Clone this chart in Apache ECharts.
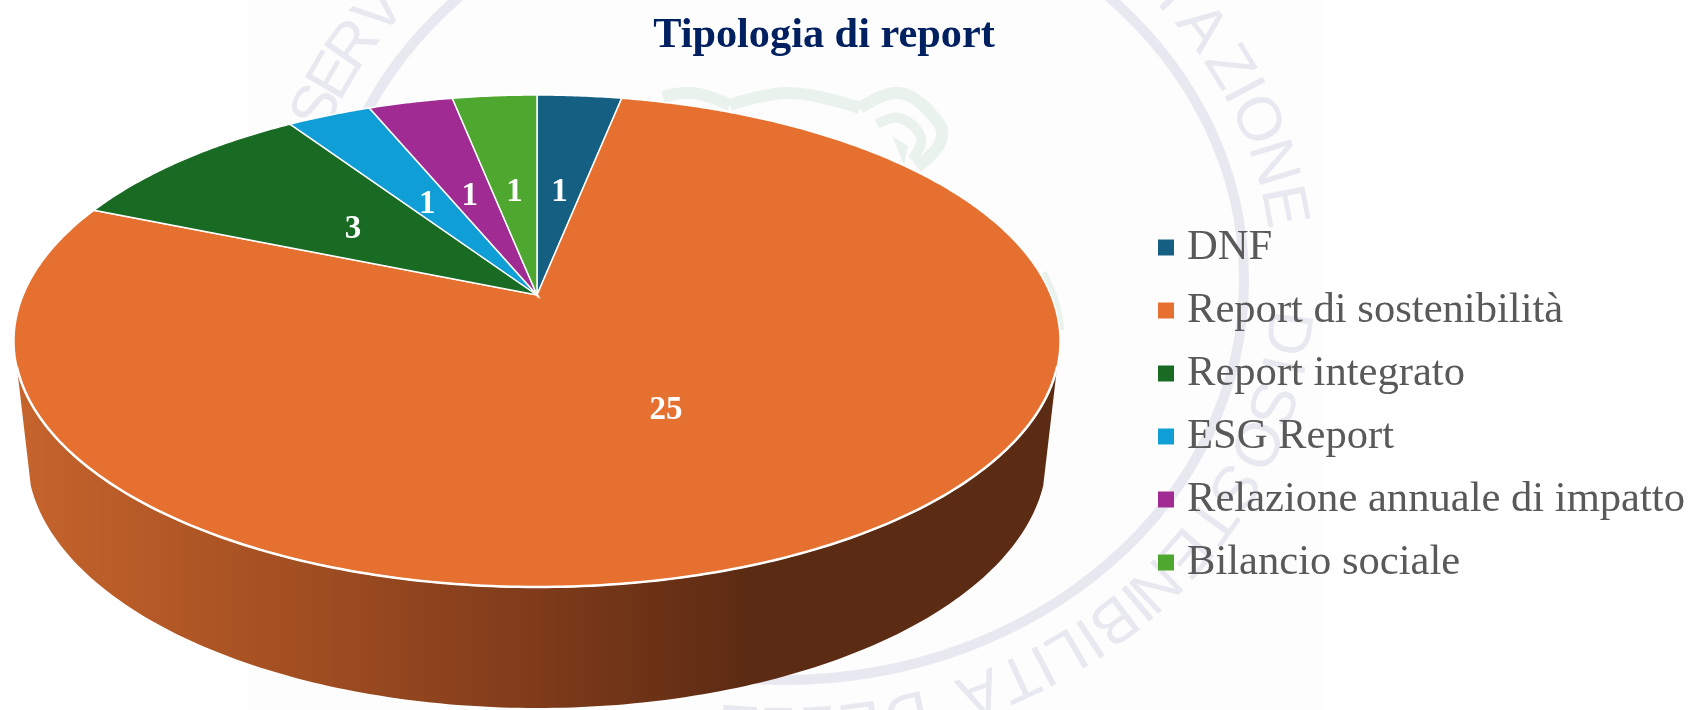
<!DOCTYPE html>
<html>
<head>
<meta charset="utf-8">
<style>html,body{margin:0;padding:0;background:#fff}#c{width:1691px;height:710px}</style>
<script src="https://cdn.jsdelivr.net/npm/echarts@6/dist/echarts.min.js"></script>
</head>
<body>
<div id="c"></div>
<script>
const categories = ['DNF', 'Report di sostenibilità', 'Report integrato', 'ESG Report', 'Relazione annuale di impatto', 'Bilancio sociale'];
const values = [1, 25, 3, 1, 1, 1];
const colors = ['#156082', '#E67030', '#196B24', '#0F9ED5', '#A02B93', '#4EA72E'];
const chartTitle = 'Tipologia di report';

const SERIF = '"Liberation Serif"';
const total = values.reduce((a, b) => a + b, 0);
const toAngle = v => echarts.number.linearMap(v, [0, total], [0, 360]);

// Perspective projection of the pie disc
const CX = 537, CY = 295, A = 513.8, B = 237.4, K = 0.187;
function project(deg, r) {
  const t = deg * Math.PI / 180;
  const X = r * Math.sin(t), Y = -r * Math.cos(t), w = 1 - K * Y;
  return [CX + A * X / w, CY + B * Y / w];
}
// Front rim: silhouette ellipses of the top face and of the bottom face
const TOP = {cx: 537, cy: 341, a: 523, b: 246};
const BOT = {cx: 537, cy: 455, a: 510, b: 253};
function ell(e, deg) {
  const t = deg * Math.PI / 180;
  return [e.cx + e.a * Math.cos(t), e.cy + e.b * Math.sin(t)];
}
function rimPoints(e, from, to) {
  const pts = [], dir = from < to ? 1 : -1;
  for (let d = from; dir * (d - to) <= 0; d += dir) pts.push(ell(e, d));
  return pts;
}

function renderSlice(i) {
  return function () {
    const before = values.slice(0, i).reduce((a, b) => a + b, 0);
    const a0 = toAngle(before), a1 = toAngle(before + values[i]);
    const pts = [[CX, CY]];
    for (let d = a0; d < a1; d += 0.5) pts.push(project(d, 1));
    pts.push(project(a1, 1));
    const children = [];
    if (a1 - a0 > 180) {
      const side = rimPoints(TOP, 174, 6).concat(rimPoints(BOT, 7, 173));
      children.push({
        type: 'polygon', shape: {points: side},
        style: {
          fill: new echarts.graphic.LinearGradient(16, 0, 1058, 0, [
            {offset: 0, color: '#C6642C'},
            {offset: 0.263, color: '#A34F22'},
            {offset: 0.5, color: '#7F3B1A'},
            {offset: 0.704, color: '#5C2B13'},
            {offset: 1, color: '#5C2B13'}
          ], true)
        }
      });
    }
    children.push({
      type: 'polygon', shape: {points: pts},
      style: {fill: colors[i], stroke: '#fff', lineWidth: 1.5, lineJoin: 'miter', miterLimit: 30}
    });
    if (a1 - a0 > 180) {
      children.push({
        type: 'polyline', shape: {points: rimPoints(TOP, 174, 6)},
        style: {fill: 'none', stroke: '#fff', lineWidth: 2.5}
      });
    }
    const lp = project((a0 + a1) / 2, 0.49);
    children.push({
      type: 'text', z2: 10,
      style: {x: lp[0], y: lp[1] + 4, text: String(values[i]), fill: '#fff',
        font: 'bold 33px ' + SERIF, align: 'center', verticalAlign: 'middle'}
    });
    return {type: 'group', children};
  };
}

// Faint stamp behind the chart
const WM = {cx: 784, cy: 280, a: 505, b: 445};
const wmLetters = [
  ['S', -67.3], ['E', -62.8], ['R', -58.2], ['V', -52.9],
  ['T', 50.5], ['A', 55.6], ['Z', 61.5], ['I', 64.9], ['O', 69], ['N', 74.8], ['E', 80.5],
  ['D', 96.8], ['I', 101],
  ['S', 106], ['O', 111.5], ['S', 117.5], ['T', 122.5], ['E', 127.5], ['N', 133],
  ['I', 136], ['B', 139.5], ['I', 143], ['L', 146.2], ['I', 149.3], ['T', 152.5], ['A', 157.3],
  ['D', 166], ['E', 171.3], ['L', 176], ['L', 180.5], ['E', 185]
];
const LOGO = '#E9F2EC';
const arc = (points, lineWidth) => ({
  type: 'polyline', shape: {points, smooth: 0.4},
  style: {fill: 'none', stroke: LOGO, lineWidth}
});
const stamp = [
  {type: 'rect', shape: {x: 248, y: 0, width: 1075, height: 710}, style: {fill: '#FDFDFD'}},
  {type: 'ellipse', shape: {cx: 784, cy: 280, rx: 460, ry: 400},
    style: {fill: 'none', stroke: '#E8E8F0', lineWidth: 10}},
  arc([[663, 97], [693, 93], [730, 105]], 12),
  arc([[730, 105], [790, 93], [860, 108]], 12),
  arc([[860, 108], [900, 93], [938, 122], [940, 143], [917, 167]], 12),
  arc([[877, 124], [900, 118], [921, 138], [912, 160]], 10),
  {type: 'polygon', shape: {points: [[892, 136], [908, 146], [904, 165]]}, style: {fill: LOGO}},
  arc([[1044, 272], [1056, 300], [1062, 330]], 5)
];
wmLetters.forEach(([ch, deg]) => {
  const t = deg * Math.PI / 180;
  stamp.push({
    type: 'text',
    x: WM.cx + WM.a * Math.sin(t), y: WM.cy - WM.b * Math.cos(t),
    rotation: -Math.atan2(Math.sin(t) / WM.a, Math.cos(t) / WM.b),
    style: {text: ch, fill: '#E8E8F0', font: '62px "Liberation Sans"', align: 'center', verticalAlign: 'middle'}
  });
});

const chart = echarts.init(document.getElementById('c'), null, {renderer: 'canvas'});
chart.setOption({
  animation: false,
  backgroundColor: '#fff',
  title: {
    text: chartTitle, left: 819, top: 10, textAlign: 'center',
    textStyle: {color: '#002060', fontFamily: SERIF, fontWeight: 'bold', fontSize: 42.3}
  },
  legend: {
    orient: 'vertical', left: 1158, top: 226, padding: 0,
    itemWidth: 16, itemHeight: 16, itemGap: 20, icon: 'rect',
    data: categories,
    textStyle: {color: '#595959', fontFamily: SERIF, fontSize: 42.6, lineHeight: 40, padding: [3, 0, 0, 8]}
  },
  graphic: {elements: stamp},
  series: categories.map((name, i) => ({
    type: 'custom', name, coordinateSystem: 'none',
    itemStyle: {color: colors[i]},
    data: [[values[i]]],
    renderItem: renderSlice(i)
  }))
});
</script>
</body>
</html>
